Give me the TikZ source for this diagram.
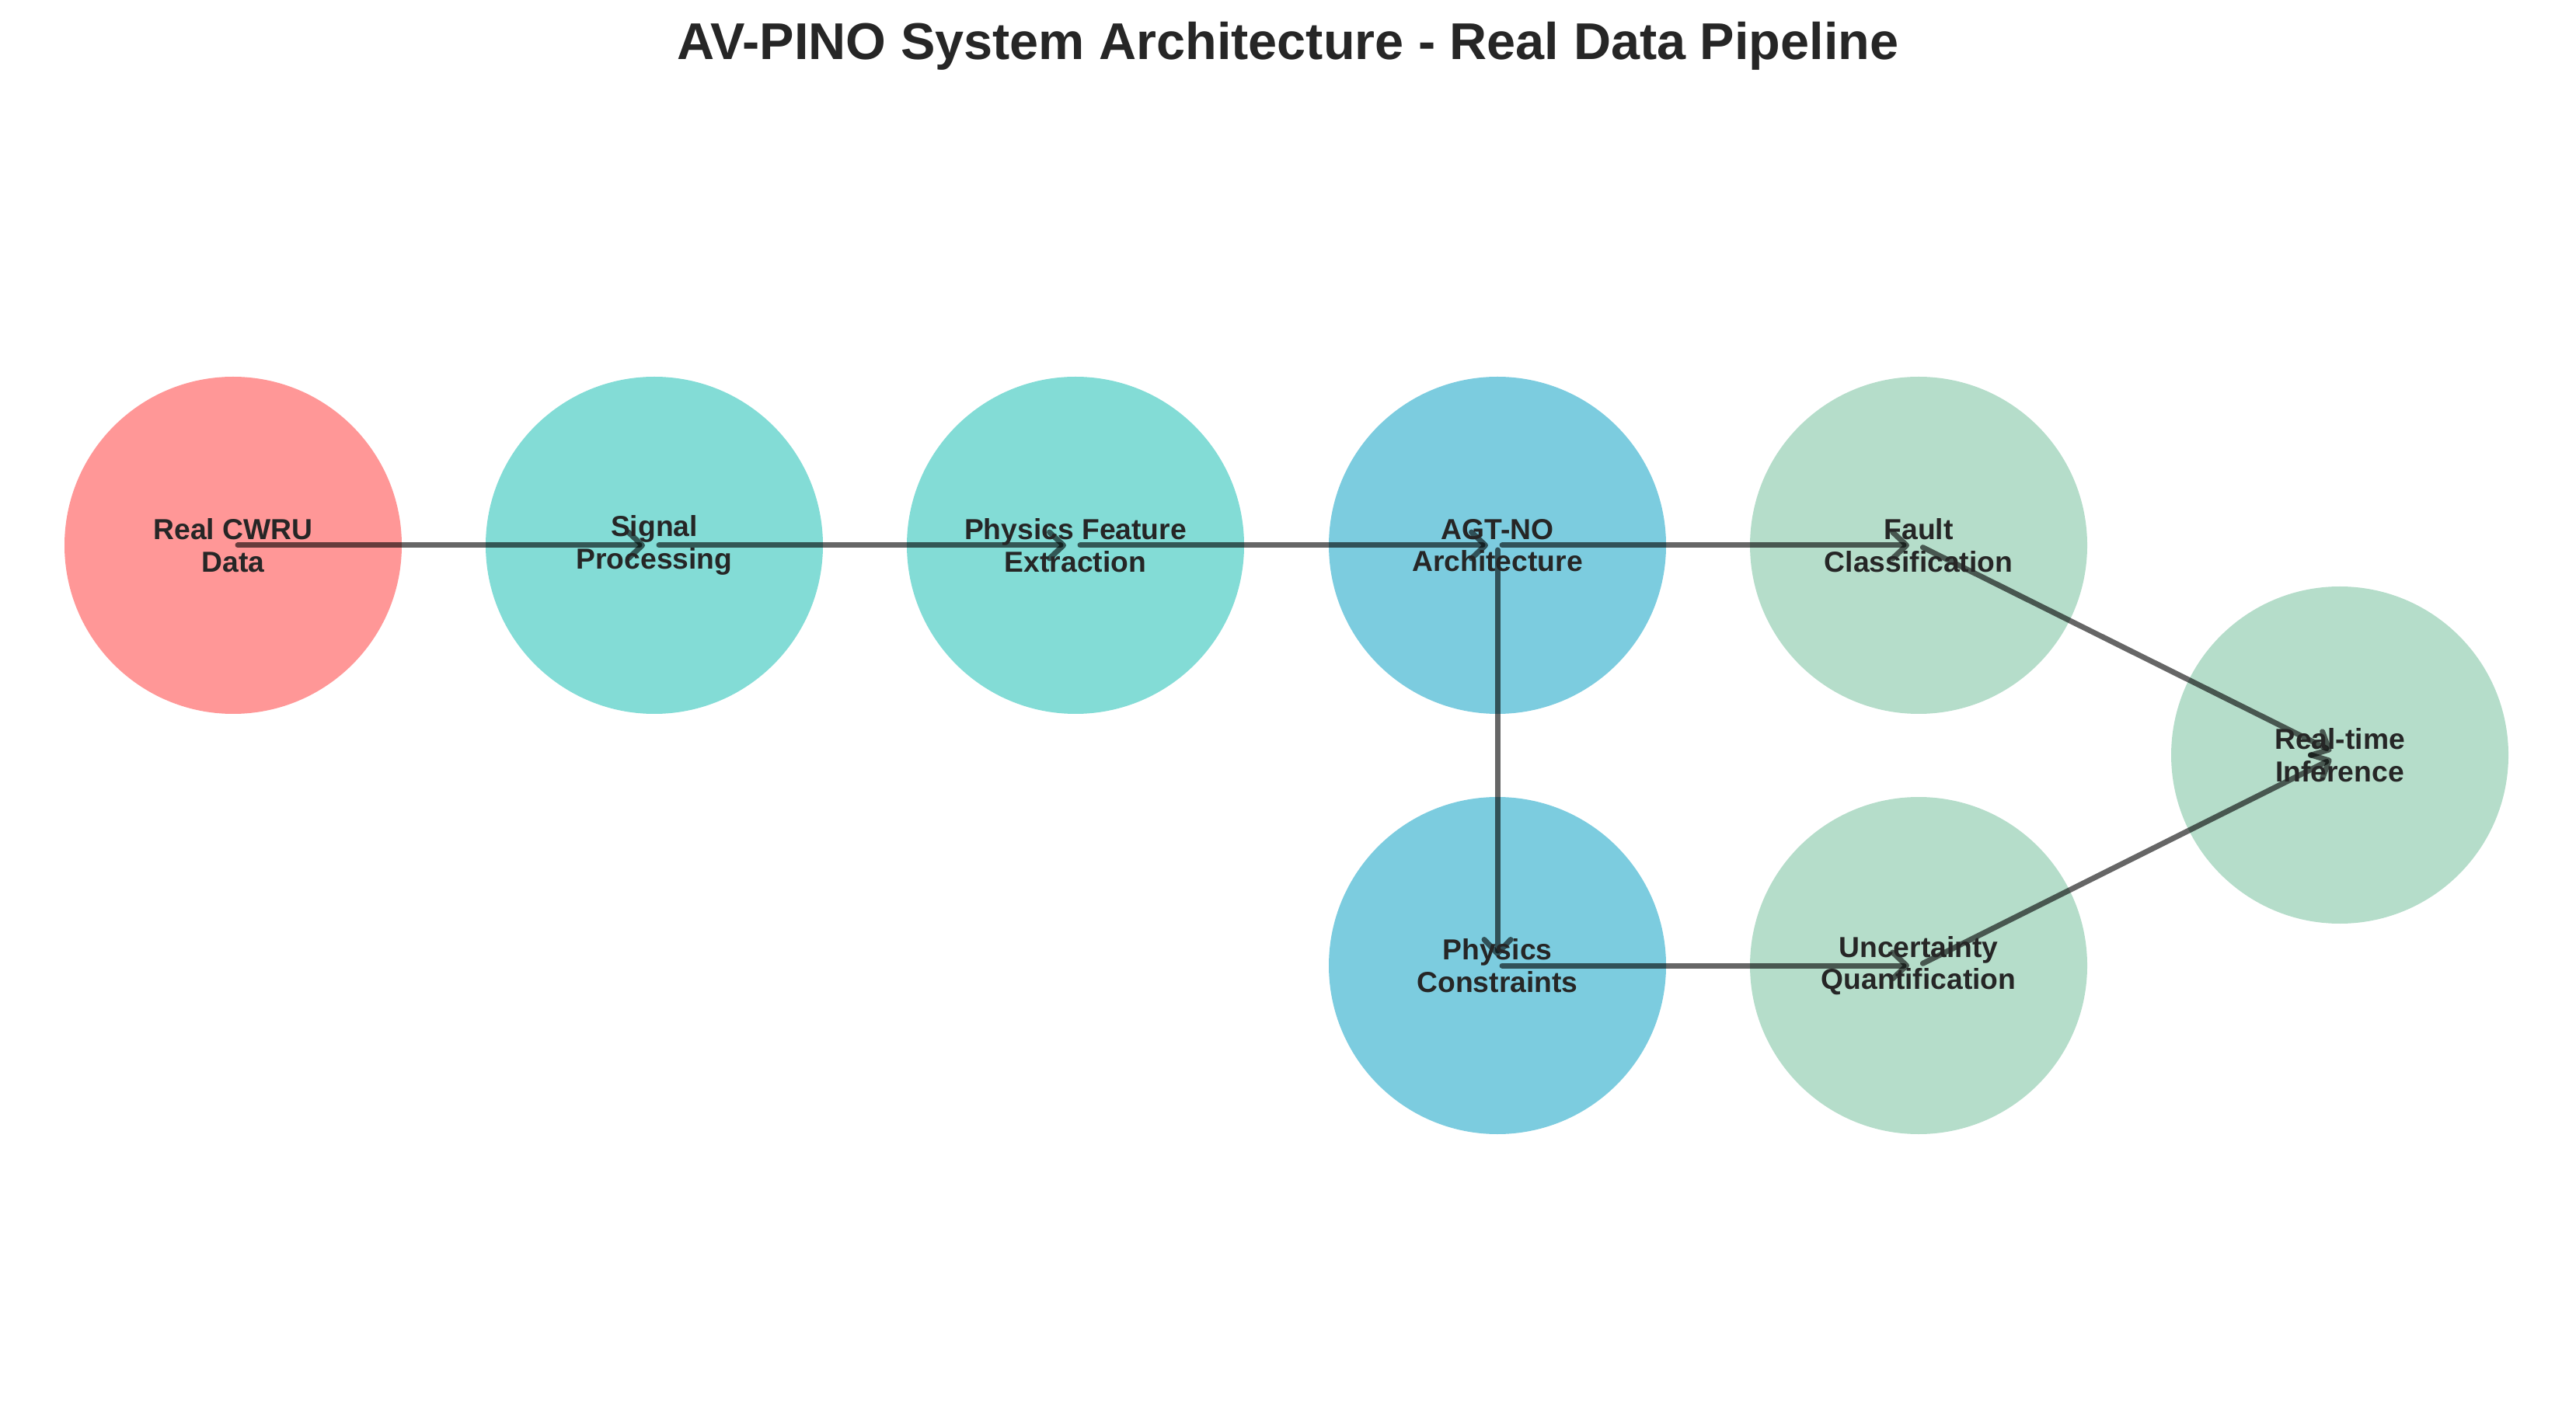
\documentclass[tikz,border=0pt]{standalone}
\usepackage{fontspec}
\setmainfont{Liberation Sans}
\usepackage{xcolor}
\usepackage{tikz}
\usetikzlibrary{arrows.meta, positioning}
\definecolor{srccol}{HTML}{FF6B6B}
\definecolor{proccol}{HTML}{4ECDC4}
\definecolor{modelcol}{HTML}{45B7D1}
\definecolor{outcol}{HTML}{96CEB4}
\definecolor{inkcol}{HTML}{262626}
\tikzset{
  stagecircle/.style={
    circle, draw=none, fill opacity=0.7, inner sep=0pt,
    minimum size=4.34cm
  },
  stagelabel/.style={
    align=center, text=inkcol, inner sep=0pt,
    font=\fontsize{10.6}{11.8}\selectfont\bfseries
  },
  flowarrow/.style={
    -{Straight Barb[length=1.8mm,width=3.4mm,round]}, line width=0.07cm,
    line cap=round, black, draw opacity=0.6,
    shorten <=0.06cm, shorten >=0.12cm
  },
  titlelabel/.style={
    font=\fontsize{18.95}{22}\selectfont\bfseries, text=inkcol
  },
}
\begin{document}
\begin{tikzpicture}
  \useasboundingbox (0,0) rectangle (33.15,18.18);

  % Title
  \node[titlelabel, anchor=base] (title) at (16.575,17.41)
    {AV-PINO System Architecture - Real Data Pipeline};

  % Stages, top row
  \node[stagecircle, fill=srccol] (data) at (3.00,11.16) {};
  \node[stagecircle, fill=proccol] (signal) at (8.42,11.16) {};
  \node[stagecircle, fill=proccol] (feat) at (13.84,11.16) {};
  \node[stagecircle, fill=modelcol] (agtno) at (19.27,11.16) {};
  \node[stagecircle, fill=outcol] (fault) at (24.69,11.16) {};

  % Stages, lower row
  \node[stagecircle, fill=modelcol] (phys) at (19.27,5.75) {};
  \node[stagecircle, fill=outcol] (uncert) at (24.69,5.75) {};
  \node[stagecircle, fill=outcol] (infer) at (30.11,8.46) {};

  % Arrows
  \draw[flowarrow] (data.center) -- (signal.center);
  \draw[flowarrow] (signal.center) -- (feat.center);
  \draw[flowarrow] (feat.center) -- (agtno.center);
  \draw[flowarrow] (agtno.center) -- (fault.center);
  \draw[flowarrow] (agtno.center) -- (phys.center);
  \draw[flowarrow] (phys.center) -- (uncert.center);
  \draw[flowarrow] (fault.center) -- (infer.center);
  \draw[flowarrow] (uncert.center) -- (infer.center);

  % Labels
  \node[stagelabel] (data-t) at (data) {Real CWRU\\Data};
  \node[stagelabel] (signal-t) at (signal) {Signal\\Processing};
  \node[stagelabel] (feat-t) at (feat) {Physics Feature\\Extraction};
  \node[stagelabel] (agtno-t) at (agtno) {AGT-NO\\Architecture};
  \node[stagelabel] (fault-t) at (fault) {Fault\\Classification};
  \node[stagelabel] (phys-t) at (phys) {Physics\\Constraints};
  \node[stagelabel] (uncert-t) at (uncert) {Uncertainty\\Quantification};
  \node[stagelabel] (infer-t) at (infer) {Real-time\\Inference};
\end{tikzpicture}
\end{document}
